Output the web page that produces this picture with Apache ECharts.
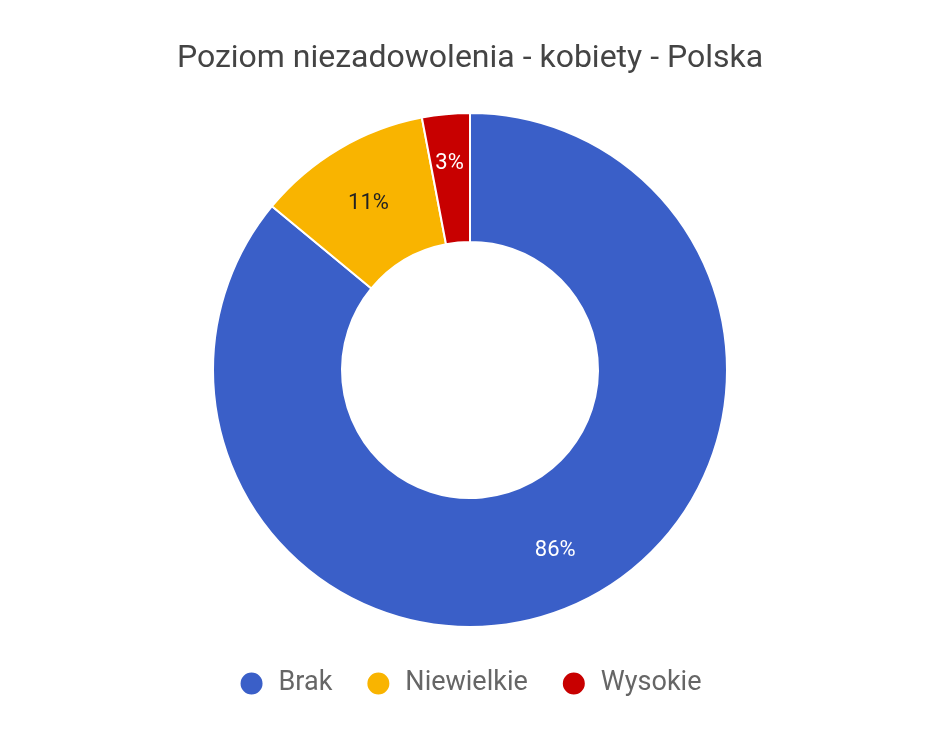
<!DOCTYPE html>
<html><head><meta charset="utf-8">
<script src="https://cdn.jsdelivr.net/npm/echarts@6/dist/echarts.min.js"></script>
<style>html,body{margin:0;padding:0;background:#fff}#c{width:940px;height:742px}</style>
</head><body><div id="c"></div>
<script>
const categories = ['Brak', 'Niewielkie', 'Wysokie'];
const values = [86, 11, 3];
const colors = ['#3A5FC8', '#F9B400', '#C80000'];
const labelColors = ['#ffffff', '#222222', '#ffffff'];

const chart = echarts.init(document.getElementById('c'));
chart.setOption({
  animation: false,
  color: colors,
  title: {
    text: 'Poziom niezadowolenia - kobiety - Polska',
    left: 'center', top: 38,
    textStyle: { fontFamily: 'Roboto', fontSize: 32, fontWeight: 'normal', color: '#444' }
  },
  legend: {
    bottom: 40, left: 'center',
    icon: 'circle', itemWidth: 24, itemHeight: 24, itemGap: 33,
    formatter: '{t|{name}}',
    textStyle: {
      fontFamily: 'Roboto', fontSize: 27, color: '#666',
      rich: { t: { fontFamily: 'Roboto', fontSize: 27, color: '#666', padding: [0, 0, 0, 10] } }
    },
    data: categories
  },
  series: [{
    type: 'pie',
    center: [470, 370],
    radius: [128, 257],
    startAngle: 90,
    clockwise: true,
    itemStyle: { borderColor: '#fff', borderWidth: 2 },
    label: {
      position: 'inside',
      formatter: '{d}%',
      fontFamily: 'Roboto', fontSize: 22
    },
    labelLine: { show: false },
    emphasis: { disabled: true },
    data: categories.map((n, i) => ({
      name: n, value: values[i],
      label: { color: labelColors[i], offset: i === 2 ? [-2, -12] : (i === 0 ? [2, 4] : [-2, 2]) }
    }))
  }]
});
</script></body></html>
